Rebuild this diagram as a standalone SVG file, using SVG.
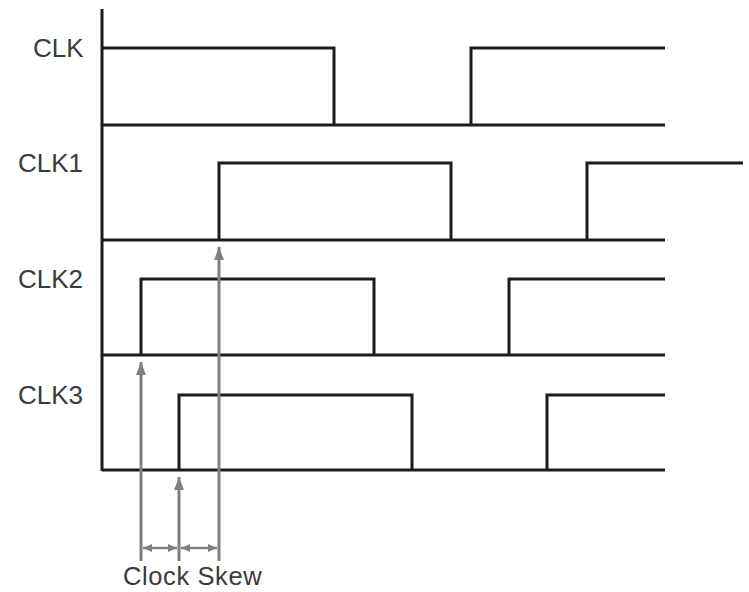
<svg xmlns="http://www.w3.org/2000/svg" width="749" height="592" viewBox="0 0 749 592">
<style>
.wave{fill:none;stroke:#1c1c1c;stroke-width:3;stroke-linejoin:miter;stroke-linecap:butt}
.lbl{font-family:"Liberation Sans",Arial,sans-serif;font-size:26px;fill:#3a3a3a}
.arr{fill:none;stroke:#808080;stroke-width:3}
.dim{fill:none;stroke:#808080;stroke-width:2.5}
</style>
<defs>
<marker id="headV" markerUnits="userSpaceOnUse" markerWidth="13" markerHeight="17" refX="17" refY="6.5" orient="auto" viewBox="0 0 17 13">
<polygon points="0,0 17,6.5 0,13" fill="#808080"/>
</marker>
<marker id="headS" markerUnits="userSpaceOnUse" markerWidth="9" markerHeight="8" refX="9" refY="4" orient="auto-start-reverse" viewBox="0 0 9 8">
<polygon points="0,0 9,4 0,8" fill="#808080"/>
</marker>
</defs>
<rect width="749" height="592" fill="#ffffff"/>
<g id="axis">
<line class="wave" x1="102" y1="9" x2="102" y2="471"/>
</g>
<g id="clk">
<text class="lbl" x="33" y="57">CLK</text>
<polyline class="wave" points="102,48 334,48 334,125"/>
<polyline class="wave" points="471,125 471,48 665,48"/>
<line class="wave" x1="102" y1="125" x2="665" y2="125"/>
</g>
<g id="clk1">
<text class="lbl" x="18" y="172">CLK1</text>
<polyline class="wave" points="219,240 219,163 451,163 451,240"/>
<polyline class="wave" points="587,240 587,163 743,163"/>
<line class="wave" x1="102" y1="240" x2="665" y2="240"/>
</g>
<g id="clk2">
<text class="lbl" x="18" y="288">CLK2</text>
<polyline class="wave" points="141,355 141,279 374,279 374,355"/>
<polyline class="wave" points="509,355 509,279 665,279"/>
<line class="wave" x1="102" y1="355" x2="665" y2="355"/>
</g>
<g id="clk3">
<text class="lbl" x="18" y="404">CLK3</text>
<polyline class="wave" points="179,470 179,395 412,395 412,470"/>
<polyline class="wave" points="547,470 547,395 665,395"/>
<line class="wave" x1="102" y1="470" x2="665" y2="470"/>
</g>
<g id="connectors">
<line class="arr" x1="141" y1="561" x2="141" y2="362" marker-end="url(#headV)"/>
<line class="arr" x1="179" y1="561" x2="179" y2="477" marker-end="url(#headV)"/>
<line class="arr" x1="219" y1="561" x2="219" y2="247" marker-end="url(#headV)"/>
<line class="dim" x1="143" y1="548" x2="177" y2="548" marker-start="url(#headS)" marker-end="url(#headS)"/>
<line class="dim" x1="181" y1="548" x2="217" y2="548" marker-start="url(#headS)" marker-end="url(#headS)"/>
</g>
<g id="skew-label">
<text class="lbl" x="123" y="585" style="font-size:25.5px;letter-spacing:0.6px">Clock Skew</text>
</g>
</svg>
